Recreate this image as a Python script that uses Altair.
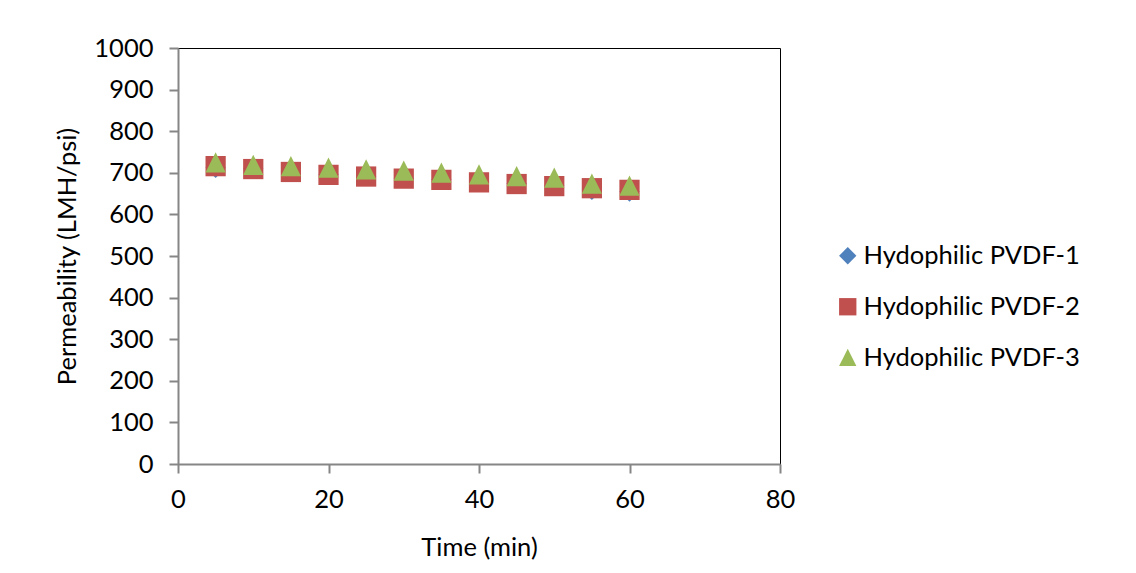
import altair as alt
import pandas as pd

time_min = [5, 10, 15, 20, 25, 30, 35, 40, 45, 50, 55, 60]
pvdf1 = [712, 710, 703, 696, 692, 687, 684, 678, 674, 669, 659, 655]
pvdf2 = [716, 709, 702, 695, 691, 686, 683, 677, 673, 668, 663, 659]
pvdf3 = [724, 718, 715, 711, 707, 704, 699, 695, 691, 687, 673, 668]
series_names = ["Hydophilic PVDF-1", "Hydophilic PVDF-2", "Hydophilic PVDF-3"]
series_colors = ["#4F81BD", "#C0504D", "#9BBB59"]
series_shapes = ["diamond", "square", "M-1,0.95L1,0.95L0,-1.05Z"]

rows = []
for name, vals in zip(series_names, [pvdf1, pvdf2, pvdf3]):
    for t, v in zip(time_min, vals):
        rows.append({"Time": t, "Permeability": v, "Series": name})
df = pd.DataFrame(rows)

FONT = "Lato"
FS = 25.5

chart = alt.Chart(df).mark_point(filled=True, opacity=1, size=410).encode(
    x=alt.X("Time:Q", title="Time (min)",
            scale=alt.Scale(domain=[0, 80], nice=False),
            axis=alt.Axis(values=[0, 20, 40, 60, 80], grid=False, labelFlush=False)),
    y=alt.Y("Permeability:Q", title="Permeability (LMH/psi)",
            scale=alt.Scale(domain=[0, 1000], nice=False),
            axis=alt.Axis(values=list(range(0, 1001, 100)), grid=False,
                          format="d", labelFlush=False)),
    color=alt.Color("Series:N", title=None,
                    scale=alt.Scale(domain=series_names, range=series_colors)),
    shape=alt.Shape("Series:N", title=None,
                    scale=alt.Scale(domain=series_names, range=series_shapes)),
).properties(
    width=602, height=416,
    autosize=alt.AutoSizeParams(type="none"),
    padding={"left": 178, "top": 48, "right": 356, "bottom": 109},
).configure_view(
    stroke="black", strokeWidth=1
).configure_axis(
    labelFont=FONT, titleFont=FONT, labelFontSize=FS, titleFontSize=FS,
    labelColor="black", titleColor="black", titleFontWeight="normal",
    domainColor="#868686", tickColor="#868686", domainWidth=2, tickWidth=2,
    tickSize=9,
).configure_axisY(
    labelPadding=16, titlePadding=13,
).configure_axisX(
    labelPadding=14, titlePadding=23,
).configure_legend(
    orient="none", legendX=657, legendY=195, labelFont=FONT, labelFontSize=FS,
    labelColor="black", symbolSize=300, rowPadding=24, padding=0,
    symbolOpacity=1, labelOffset=3, labelLimit=400,
)

chart.save("out.html", embed_options={"renderer": "svg", "actions": False})
